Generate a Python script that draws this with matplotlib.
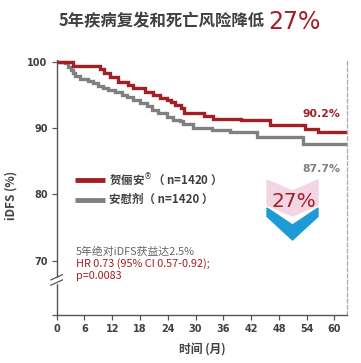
import matplotlib
matplotlib.use("Agg")
import matplotlib.pyplot as plt
from matplotlib.patches import Polygon, Rectangle

plt.rcParams['font.family'] = ['Noto Sans CJK SC', 'DejaVu Sans']

# data (months, iDFS %)
red_t = [0, 3.6, 9.35, 10.2, 11.5, 13.3, 15.5, 16.5, 19.1, 20.9, 22.3, 23.8, 24.7,
         25.6, 26.8, 27.5, 31.8, 33.8, 39.8, 46.1, 53.6, 56.5, 62.7]
red_s = [100, 99.4, 98.9, 98.4, 97.8, 97.0, 96.5, 96.0, 95.5, 95.0, 94.6, 94.3, 93.9,
         93.5, 93.0, 92.3, 91.8, 91.4, 91.2, 90.5, 89.9, 89.4, 89.4]

gray_t = [0, 1.8, 2.5, 3.0, 3.5, 4.0, 5.0, 6.8, 7.9, 9.0, 10.1, 11.1, 12.6, 14.0, 15.1,
          16.5, 18.0, 19.4, 20.5, 21.9, 23.8, 25.2, 26.6, 27.3, 29.5, 33.5, 37.4, 43.2,
          53.3, 62.7]
gray_s = [100, 99.8, 99.3, 98.8, 98.3, 97.9, 97.5, 97.1, 96.8, 96.4, 96.0, 95.8, 95.4,
          95.0, 94.7, 94.2, 93.8, 93.3, 92.7, 92.3, 91.7, 91.3, 91.1, 90.6, 90.1, 89.8,
          89.5, 88.7, 87.6, 87.6]

x_ticks = [0, 6, 12, 18, 24, 30, 36, 42, 48, 54, 60]
y_ticks = [70, 80, 90, 100]
labels = ["贺俪安$^{®}$（ n=1420 ）", "安慰剂（ n=1420 ）"]
end_labels = ["90.2%", "87.7%"]
stats = ["5年绝对iDFS获益达2.5%", "HR 0.73 (95% CI 0.57-0.92);", "p=0.0083"]

RED = "#A31F24"
GRAY = "#808080"
DARK = "#404040"
BLUE = "#1E9BD7"
PINK = "#F3D6E4"

W, H = 361, 363
fig = plt.figure(figsize=(W / 100, H / 100), dpi=100)
ax = fig.add_axes([56.7 / W, 48 / H, 290.3 / W, 255 / H])

ax.step(gray_t, gray_s, where="post", color=GRAY, lw=2.4, solid_joinstyle="miter")
ax.step(red_t, red_s, where="post", color=RED, lw=2.4, solid_joinstyle="miter")

ax.set_xlim(0, 62.7)
ax.set_ylim(61.8, 100.3)
ax.set_xticks(x_ticks)
ax.set_yticks([61.8] + y_ticks)
ax.set_yticklabels([""] + [str(v) for v in y_ticks])

for s in ["left", "bottom"]:
    ax.spines[s].set_color("#555555")
    ax.spines[s].set_linewidth(1.0)
ax.spines["top"].set_visible(False)
ax.spines["right"].set_color("#AAAAAA")
ax.spines["right"].set_linestyle((0, (3, 2)))
ax.spines["right"].set_linewidth(0.9)

ax.tick_params(axis="both", length=3.5, width=0.9, color="#555555",
               labelsize=7, labelcolor=DARK, pad=3)
for lab in ax.get_xticklabels() + ax.get_yticklabels():
    lab.set_fontweight("bold")
    lab.set_family("DejaVu Sans")

ax.set_xlabel("时间 (月)", fontsize=8.5, fontweight="bold", color=DARK, labelpad=6)
ax.set_ylabel("iDFS (%)", fontsize=8.5, fontweight="bold", color=DARK)
ax.yaxis.set_label_coords(-0.135, 0.47)

# axis break on the y-axis
ax.add_patch(Rectangle((-0.01, 66.6), 0.02, 0.8, transform=ax.get_yaxis_transform(),
                       color="white", clip_on=False, zorder=5))
for yb in (66.7, 67.5):
    ax.plot([-0.02, 0.02], [yb - 0.4, yb + 0.4], transform=ax.get_yaxis_transform(),
            color="#555555", lw=0.9, clip_on=False, zorder=6)

# legend
ax.plot([4.0, 10.5], [82.2, 82.2], color=RED, lw=3.5, solid_capstyle="butt")
ax.plot([4.0, 10.5], [79.2, 79.2], color=GRAY, lw=3.5, solid_capstyle="butt")
ax.text(11.4, 82.2, labels[0], fontsize=8.3, fontweight="bold", color=DARK, va="center")
ax.text(11.4, 79.2, labels[1], fontsize=8.3, fontweight="bold", color=DARK, va="center")

# stats text
ax.text(4.2, 71.4, stats[0], fontsize=7.8, color="#666666", va="center")
ax.text(4.2, 69.5, stats[1], fontsize=7.8, color=RED, va="center")
ax.text(4.2, 67.7, stats[2], fontsize=7.8, color=RED, va="center")

# end values
ax.text(61.2, 92.2, end_labels[0], fontsize=7.8, fontweight="bold", color=RED,
        ha="right", va="center", family="DejaVu Sans")
ax.text(61.2, 83.9, end_labels[1], fontsize=7.8, fontweight="bold", color=GRAY,
        ha="right", va="center", family="DejaVu Sans")

# 27% chevron graphic (pixel coords)
def px(x, y):
    return (x / W, 1 - y / H)

pink = [px(267, 180), px(292.5, 191), px(318, 180), px(318, 205), px(292.5, 216), px(267, 205)]
blue = [px(267, 208), px(292.5, 225), px(318, 208), px(318, 216.5), px(292.5, 240), px(267, 216.5)]
fig.patches.append(Polygon(pink, closed=True, transform=fig.transFigure, color=PINK, zorder=1))
fig.patches.append(Polygon(blue, closed=True, transform=fig.transFigure, color=BLUE, zorder=2))
fig.text(294 / W, 1 - 201 / H, "27%", fontsize=14.5, color=RED, ha="center", va="center",
         family="DejaVu Sans", zorder=3)

# title
fig.text(265 / W, 1 - 21 / H, "5年疾病复发和死亡风险降低", fontsize=11.8, fontweight="bold",
         color=DARK, ha="right", va="center")
fig.text(268 / W, 1 - 22 / H, "27%", fontsize=17, color=RED, ha="left", va="center",
         family="DejaVu Sans")

fig.savefig("out.png", dpi=100)
